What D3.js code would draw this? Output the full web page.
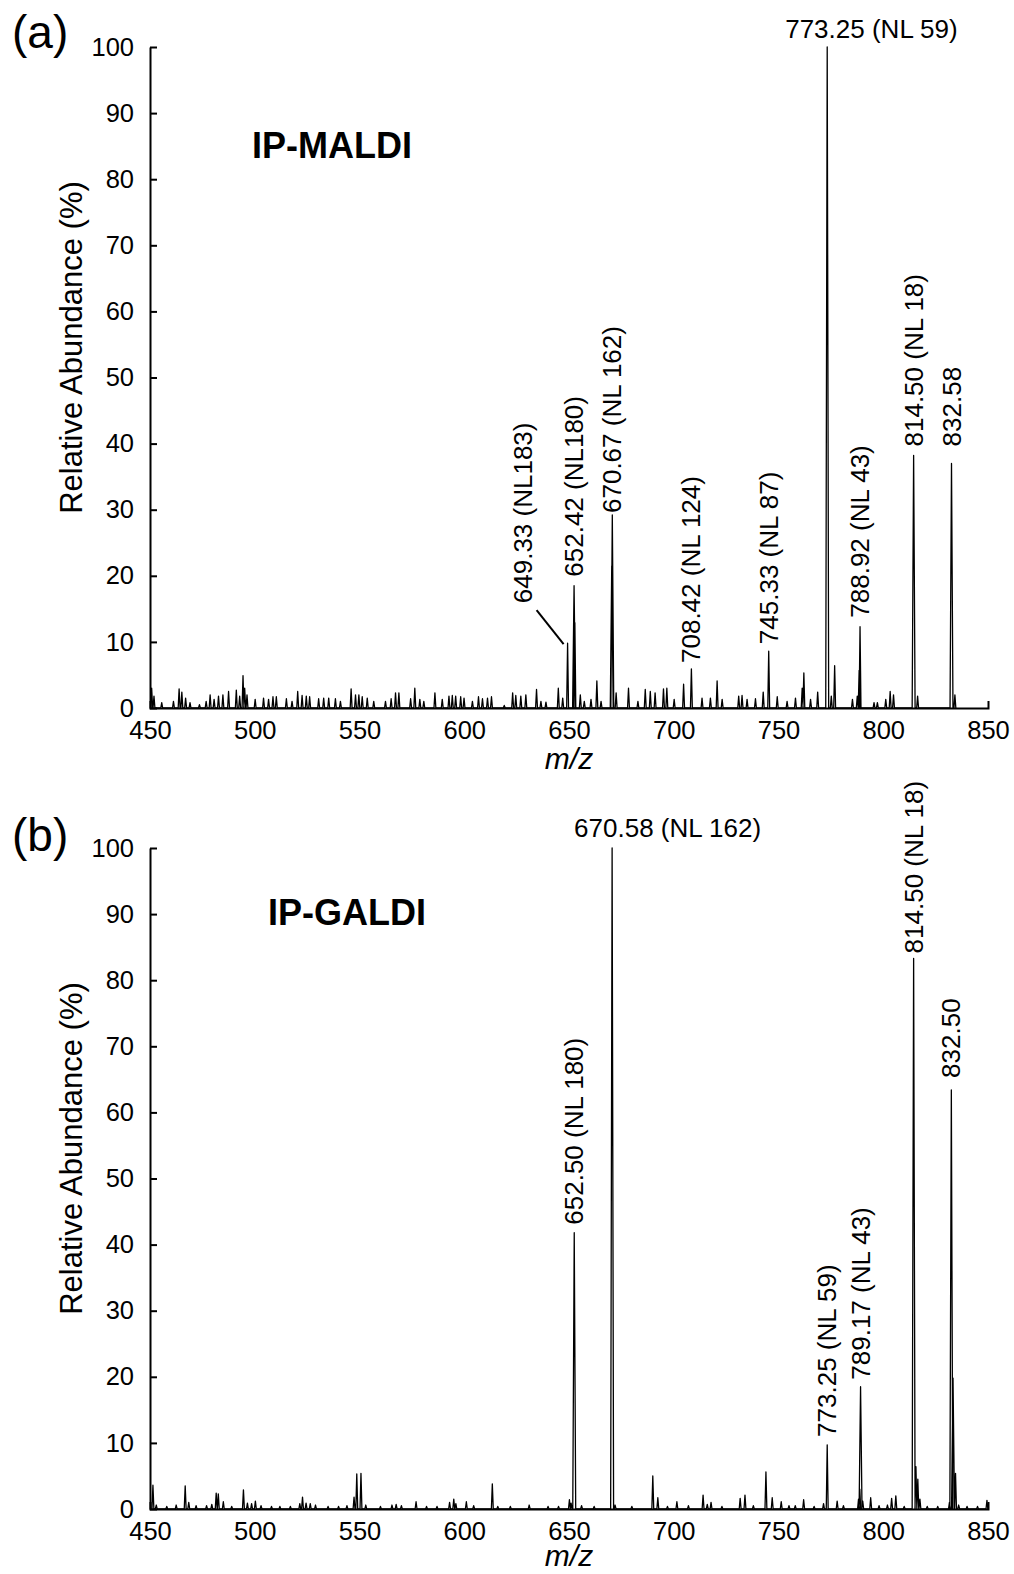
<!DOCTYPE html>
<html>
<head>
<meta charset="utf-8">
<script src="https://cdn.jsdelivr.net/npm/d3@7"></script>
<style>
  body { margin: 0; background: #fff; }
  svg { display: block; font-family: "Liberation Sans", Arial, sans-serif; }
  .spec { fill: none; stroke: #000; stroke-width: 1.3; stroke-linejoin: round; }
  .axis path, .axis line { stroke: #000; stroke-width: 2; }
  .axis text { font-size: 25.5px; fill: #000; }
  .pk { font-size: 26px; fill: #000; }
</style>
</head>
<body>
<svg id="fig" width="1014" height="1574"></svg>
<script>
// tick values
var mzTicks = [450, 500, 550, 600, 650, 700, 750, 800, 850],
    abTicks = [0, 10, 20, 30, 40, 50, 60, 70, 80, 90, 100];

// (a) IP-MALDI peaks [m/z, relative abundance %]
var maldiPeaks = [
  [450.8,3.0],[451.9,1.8],[455.6,0.8],[461.2,1.0],[463.9,2.9],[465.2,2.4],[467.0,1.5],[469.1,0.8],
  [473.6,0.5],[476.8,1.0],[478.7,2.0],[480.6,1.3],[482.7,1.8],[484.8,2.0],[487.5,2.5],[491.2,2.7],
  [492.8,1.8],[494.4,4.9],[495.2,3.0],[496.3,2.0],[500.2,1.3],[504.2,1.5],[506.6,1.3],[508.7,1.7],
  [510.3,1.7],[515.1,1.4],[517.8,1.0],[520.5,2.5],[522.6,1.9],[524.6,1.8],[526.2,1.7],[530.5,1.4],
  [532.9,1.5],[535.3,1.5],[538.5,1.4],[540.9,1.0],[546.0,2.9],[548.1,2.0],[549.7,2.0],[551.3,1.7],
  [553.7,1.5],[556.8,1.0],[562.4,1.0],[565.1,1.4],[567.2,2.3],[568.8,2.3],[574.4,1.4],[576.4,3.0],
  [578.8,1.3],[580.7,1.0],[586.0,2.3],[589.5,1.3],[592.7,1.8],[594.3,1.9],[595.9,1.8],[598.3,1.7],
  [599.9,1.5],[603.9,1.0],[606.8,1.7],[608.7,1.4],[611.1,1.5],[613.0,1.7],[619.1,0.4],[623.1,2.3],
  [624.6,1.9],[627.0,1.8],[629.4,2.0],[634.5,2.8],[636.6,1.0],[639.0,0.9],[644.9,3.0],[647.0,1.5],
  [649.33,9.8],[652.42,18.5],[652.8,12.9],[655.4,2.0],[657.3,1.0],[660.5,1.3],[663.3,4.1],[665.3,1.0],
  [670.4,21.5],[670.67,29.2],[672.5,2.3],[678.4,3.0],[682.9,1.0],[686.4,2.8],[688.8,2.5],[691.1,2.3],
  [695.1,2.9],[696.7,3.0],[700.2,1.3],[704.7,3.6],[708.42,5.9],[713.5,1.5],[717.5,1.5],[720.7,4.1],
  [723.1,1.3],[731.0,1.8],[732.6,1.9],[735.0,1.3],[739.0,1.4],[742.7,2.4],[745.33,8.6],[749.4,1.7],
  [754.1,1.0],[758.1,1.5],[761.3,3.0],[762.1,5.3],[765.3,1.3],[768.7,2.4],[773.25,100],[775.2,1.8],
  [776.8,6.4],[785.3,1.3],[787.6,1.8],[788.5,5.7],[788.92,12.3],[795.6,0.8],[797.2,0.8],[801.2,1.3],
  [803.3,2.5],[804.9,2.0],[814.5,38.2],[816.4,1.8],[832.58,37.0],[834.2,2.0]
];

// (b) IP-GALDI peaks [m/z, relative abundance %]
var galdiPeaks = [
  [451.4,3.6],[453.0,0.6],[458.0,0.4],[462.5,0.6],[466.8,3.5],[468.5,1.0],[472.0,0.5],[477.0,0.5],
  [479.5,0.7],[481.6,2.4],[482.6,2.3],[485.0,1.1],[489.0,0.4],[494.6,2.9],[496.5,0.9],[498.5,0.8],
  [500.3,1.2],[503.0,0.5],[508.0,0.4],[512.0,0.4],[517.0,0.4],[521.5,0.8],[522.8,1.8],[524.5,0.9],
  [526.5,0.8],[529.0,0.6],[535.0,0.4],[540.0,0.4],[544.0,0.5],[547.4,1.8],[548.7,5.3],[550.7,5.4],
  [553.0,0.6],[560.0,0.4],[565.5,0.6],[567.5,0.7],[570.0,0.5],[577.0,1.1],[582.0,0.4],[587.0,0.4],
  [593.0,1.0],[595.0,1.5],[596.0,0.8],[601.0,1.1],[604.5,0.5],[613.4,3.8],[616.0,0.4],[622.0,0.4],
  [631.0,0.6],[640.0,0.4],[645.0,0.4],[650.2,1.4],[651.0,0.9],[652.5,41.8],[656.0,0.5],[662.0,0.4],
  [670.58,100],[672.0,0.6],[680.0,0.4],[690.0,5.0],[692.4,1.7],[697.0,0.4],[701.5,1.1],[707.0,0.5],
  [714.0,2.1],[716.0,0.7],[717.8,1.0],[723.0,0.4],[731.7,1.6],[734.0,2.1],[738.0,0.5],[744.0,5.6],
  [747.0,1.7],[751.3,1.1],[755.0,0.5],[758.0,0.5],[762.0,1.4],[767.0,0.4],[771.5,0.8],[773.25,9.7],
  [778.0,1.2],[781.0,0.5],[788.2,1.5],[788.8,3.0],[789.17,18.5],[790.2,1.2],[794.0,1.7],[798.0,0.5],
  [802.0,0.6],[804.0,1.6],[806.0,2.0],[810.0,0.4],[814.5,83.3],[815.6,6.4],[816.5,4.5],[817.5,1.5],
  [821.0,0.4],[826.0,0.4],[831.6,1.0],[832.5,63.4],[833.3,19.8],[834.5,5.4],[836.0,0.6],[840.0,0.4],
  [845.0,0.4],[849.5,1.3]
];

// rotated peak annotations [text, m/z, abundance at peak top]
var maldiLabels = [
  ["652.42 (NL180)", 652.42, 18.5],
  ["670.67 (NL 162)", 670.67, 29.2],
  ["708.42 (NL 124)", 708.42, 5.9],
  ["745.33 (NL 87)", 745.33, 8.6],
  ["788.92 (NL 43)", 788.92, 12.3],
  ["814.50 (NL 18)", 814.5, 38.2],
  ["832.58", 832.58, 37.0]
];
var maldiLeader = ["649.33 (NL183)", 649.33, 9.8];
var maldiTop = ["773.25 (NL 59)", 773.25, 100];

var galdiLabels = [
  ["652.50 (NL 180)", 652.5, 41.8],
  ["773.25 (NL 59)", 773.25, 9.7],
  ["789.17 (NL 43)", 789.17, 18.5],
  ["814.50 (NL 18)", 814.5, 83.3],
  ["832.50", 832.5, 63.4]
];
var galdiTop = ["670.58 (NL 162)", 670.58, 100];

// layout: gap in px between peak top and label start
var gapA = [9, 2, 6, 7, 9, 9, 17],
    gapB = [8, 8, 7, 5, 12];

var svg = d3.select('#fig');

var x = d3.scaleLinear().domain([450, 850]).range([150, 988]);

function drawPanel(o) {

    var g = svg.append('g');

    var y = d3.scaleLinear().domain([0, 100]).range([o.bottom, o.top]);

    // profile made of narrow triangles, one per peak
    var pts = [];
    o.peaks.slice().sort(function(a, b) { return a[0] - b[0]; }).forEach(function(p) {
        var w = p[1] > 15 ? 0.7 : 0.45;
        pts.push([p[0] - w, 0], [p[0], p[1]], [p[0] + w, 0]);
    });

    var line = d3.line()
        .x(function(d) { return x(d[0]); })
        .y(function(d) { return y(d[1]); });

    g.append('path').attr('class', 'spec').attr('d', line(pts));

    // axes
    g.append('g').attr('class', 'axis')
        .attr('transform', 'translate(150,0)')
        .call(d3.axisLeft(y).tickValues(abTicks).tickSizeInner(-7).tickSizeOuter(0).tickPadding(16));

    g.append('g').attr('class', 'axis')
        .attr('transform', 'translate(0,' + o.bottom + ')')
        .call(d3.axisBottom(x).tickValues(mzTicks).tickSizeInner(0).tickSizeOuter(-7).tickPadding(13));

    g.selectAll('.axis .domain').attr('fill', 'none');

    // axis titles
    g.append('text')
        .attr('transform', 'translate(82,' + ((o.top + o.bottom) / 2 - 30) + ') rotate(-90)')
        .attr('text-anchor', 'middle')
        .attr('font-size', 31)
        .text('Relative Abundance (%)');

    g.append('text')
        .attr('x', (150 + 988) / 2)
        .attr('y', o.bottom + o.mzDy)
        .attr('text-anchor', 'middle')
        .attr('font-size', 30)
        .attr('font-style', 'italic')
        .text('m/z');

    g.append('text').attr('x', 12).attr('y', o.tagY).attr('font-size', 46).text(o.tag);

    g.append('text').attr('x', o.nameX).attr('y', o.nameY)
        .attr('font-size', 36).attr('font-weight', 'bold').text(o.name);

    // rotated labels
    o.labels.forEach(function(l, i) {
        var px = x(l[1]), py = y(l[2]) - o.gaps[i];
        g.append('text').attr('class', 'pk')
            .attr('transform', 'translate(' + px + ',' + py + ') rotate(-90)')
            .attr('dy', '0.35em')
            .text(l[0]);
    });

    // horizontal label for the base peak
    g.append('text').attr('class', 'pk')
        .attr('x', x(o.topLabel[1]) + o.topDx)
        .attr('y', y(o.topLabel[2]) + o.topDy)
        .text(o.topLabel[0]);

    if (o.leader) {
        var lx = x(o.leader[1]), ly = y(o.leader[2]);
        g.append('line')
            .attr('x1', lx - 4).attr('y1', ly + 1)
            .attr('x2', lx - 31).attr('y2', ly - 33)
            .attr('stroke', '#000').attr('stroke-width', 2);
        g.append('text').attr('class', 'pk')
            .attr('transform', 'translate(' + (lx - 45) + ',' + (ly - 40) + ') rotate(-90)')
            .attr('dy', '0.35em')
            .text(o.leader[0]);
    }
}

drawPanel({
    top: 47, bottom: 708, peaks: maldiPeaks, labels: maldiLabels, gaps: gapA,
    topLabel: maldiTop, topDx: -42, topDy: -9, leader: maldiLeader, mzDy: 61,
    tag: '(a)', tagY: 48, name: 'IP-MALDI', nameX: 252, nameY: 158
});

drawPanel({
    top: 848, bottom: 1509, peaks: galdiPeaks, labels: galdiLabels, gaps: gapB,
    topLabel: galdiTop, topDx: -38, topDy: -11, mzDy: 57,
    tag: '(b)', tagY: 851, name: 'IP-GALDI', nameX: 268, nameY: 925
});
</script>
</body>
</html>
